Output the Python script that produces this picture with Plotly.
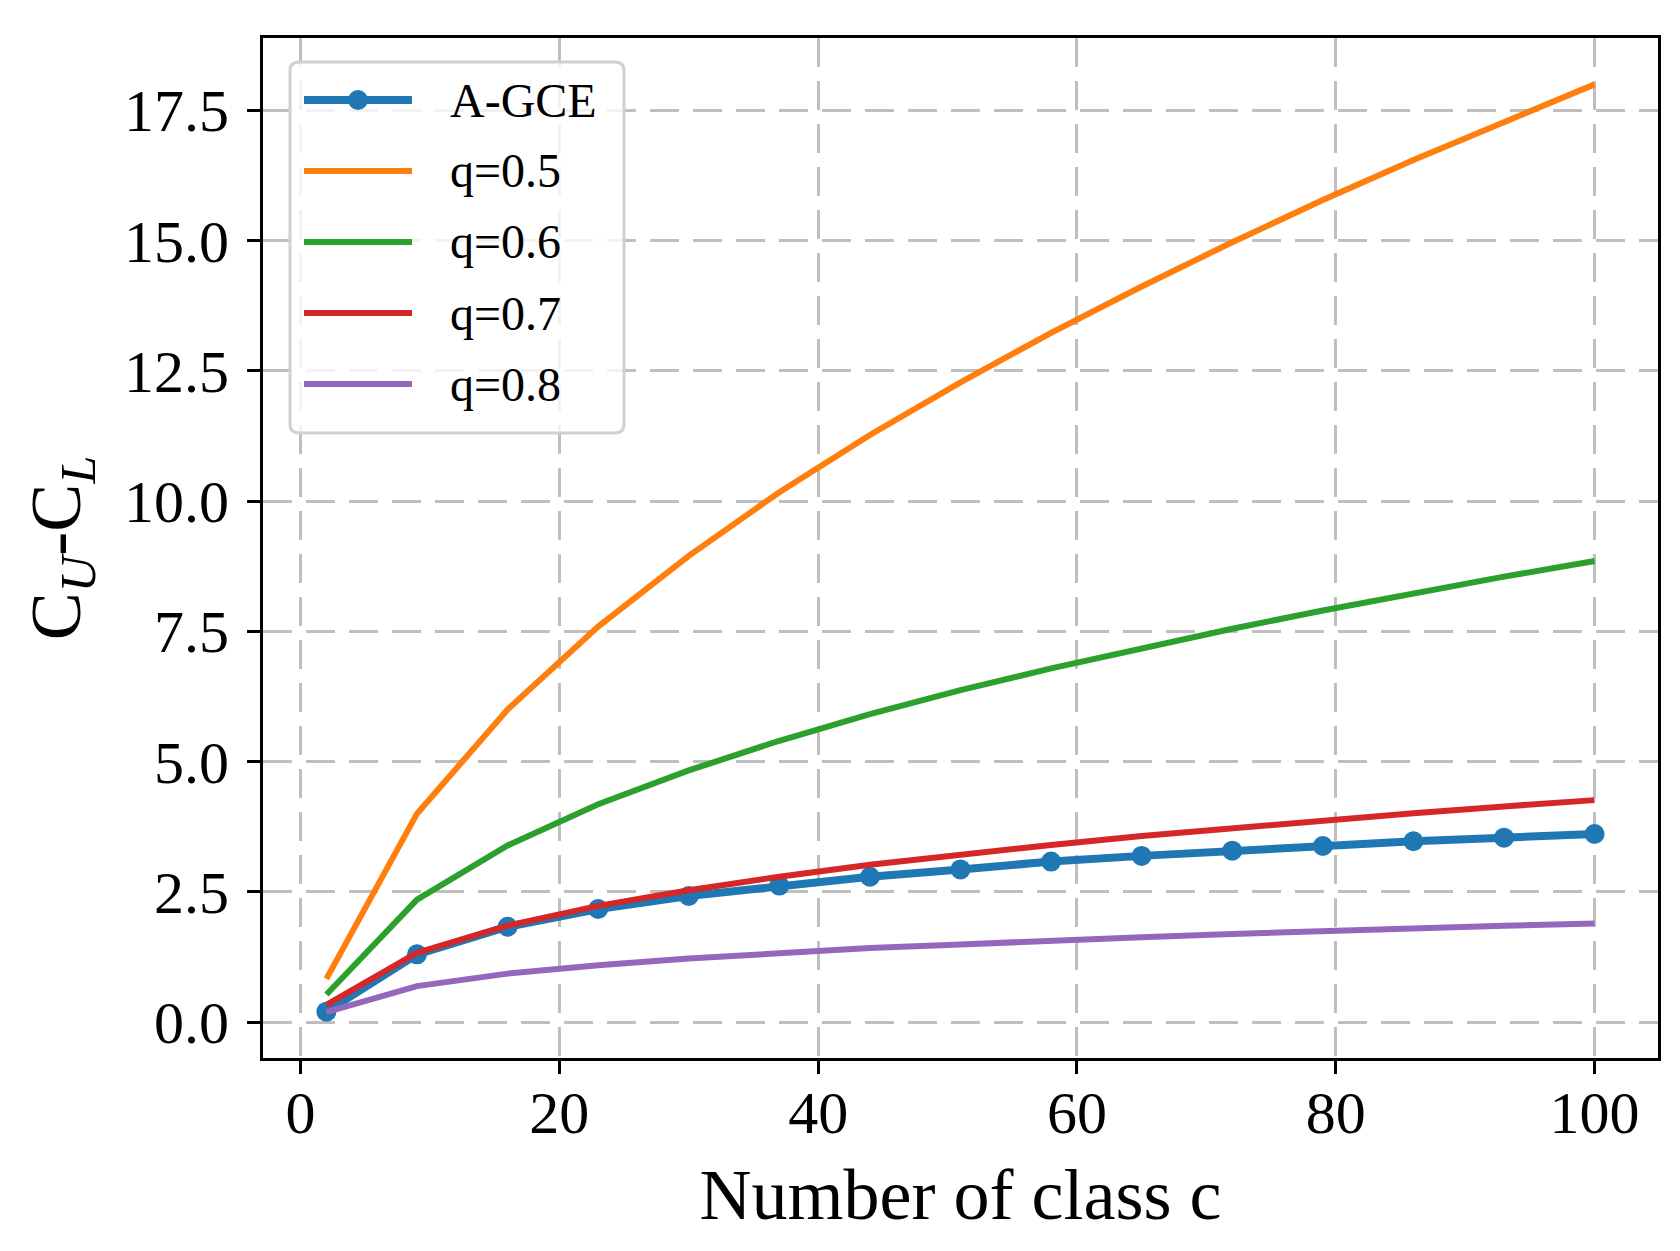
import plotly.graph_objects as go

# number of classes on the x axis
classes = [2, 9, 16, 23, 30, 37, 44, 51, 58, 65, 72, 79, 86, 93, 100]

# C_U - C_L values
agce = [0.20, 1.30, 1.83, 2.17, 2.42, 2.62, 2.79, 2.93, 3.08, 3.19, 3.29, 3.38, 3.47, 3.54, 3.61]
q05 = [0.83, 4.00, 6.00, 7.59, 8.95, 10.17, 11.27, 12.28, 13.23, 14.12, 14.97, 15.78, 16.55, 17.29, 18.00]
q06 = [0.53, 2.35, 3.39, 4.18, 4.83, 5.40, 5.91, 6.37, 6.79, 7.18, 7.55, 7.90, 8.23, 8.55, 8.85]
q07 = [0.33, 1.33, 1.85, 2.23, 2.53, 2.79, 3.02, 3.22, 3.40, 3.57, 3.72, 3.87, 4.01, 4.14, 4.26]
q08 = [0.19, 0.69, 0.93, 1.09, 1.22, 1.32, 1.42, 1.49, 1.57, 1.63, 1.69, 1.75, 1.80, 1.85, 1.89]

series_names = ["A-GCE", "q=0.5", "q=0.6", "q=0.7", "q=0.8"]
series_colors = ["#1f77b4", "#ff7f0e", "#2ca02c", "#d62728", "#9467bd"]

x_ticks = [0, 20, 40, 60, 80, 100]
y_ticks = [0.0, 2.5, 5.0, 7.5, 10.0, 12.5, 15.0, 17.5]

serif = "Liberation Serif, Times New Roman, serif"

W, H = 1680, 1251
M_L, M_R, M_T, M_B = 255, 30, 30, 201
PW, PH = W - M_L - M_R, H - M_T - M_B


def px_x(px):
    # pixel column -> paper x
    return (px - M_L) / PW


def px_y(py):
    # pixel row -> paper y
    return (H - M_B - py) / PH


fig = go.Figure()

all_values = [agce, q05, q06, q07, q08]
for i, (name, color, vals) in enumerate(zip(series_names, series_colors, all_values)):
    if i == 0:
        fig.add_trace(go.Scatter(x=classes, y=vals, name=name, mode="lines+markers",
                                 line=dict(color=color, width=8),
                                 marker=dict(color=color, size=20)))
    else:
        fig.add_trace(go.Scatter(x=classes, y=vals, name=name, mode="lines",
                                 line=dict(color=color, width=6)))

axis_common = dict(
    showline=True, linecolor="black", linewidth=3, mirror=True,
    ticks="outside", ticklen=13, tickwidth=3, tickcolor="black",
    showgrid=True, gridcolor="#bfbfbf", gridwidth=3, griddash="29px,14px",
    zeroline=False,
    tickfont=dict(family=serif, size=60, color="black"),
)

fig.update_xaxes(
    range=[-2.9, 104.9], tickvals=x_ticks, ticklabelstandoff=-13,
    title=dict(text="Number of class c", font=dict(family=serif, size=72, color="black"), standoff=24),
    **axis_common,
)
fig.update_yaxes(
    range=[-0.69, 18.89], tickvals=y_ticks, tickformat=".1f", ticklabelstandoff=6,
    title=dict(text="C<sub><i>U</i></sub>-C<sub><i>L</i></sub>",
               font=dict(family=serif, size=72, color="black"), standoff=20),
    **axis_common,
)

# legend drawn by hand (matplotlib style: long sample lines, rounded frame)
box_l, box_r, box_t, box_b = px_x(282), px_x(616), px_y(54), px_y(425)
rx, ry = 9 / PW, 9 / PH
box_path = (
    f"M {box_l + rx},{box_t} L {box_r - rx},{box_t} Q {box_r},{box_t} {box_r},{box_t - ry} "
    f"L {box_r},{box_b + ry} Q {box_r},{box_b} {box_r - rx},{box_b} "
    f"L {box_l + rx},{box_b} Q {box_l},{box_b} {box_l},{box_b + ry} "
    f"L {box_l},{box_t - ry} Q {box_l},{box_t} {box_l + rx},{box_t} Z"
)
shapes = [dict(type="path", path=box_path, xref="paper", yref="paper", layer="above",
               fillcolor="rgba(255,255,255,0.8)", line=dict(color="#d0d0d0", width=3))]
annotations = []
row0, row_gap = 92, 71
for i, (name, color) in enumerate(zip(series_names, series_colors)):
    yy = px_y(row0 + i * row_gap)
    shapes.append(dict(type="line", xref="paper", yref="paper", layer="above",
                       x0=px_x(296), x1=px_x(404), y0=yy, y1=yy,
                       line=dict(color=color, width=8 if i == 0 else 6)))
    if i == 0:
        shapes.append(dict(type="circle", xref="paper", yref="paper", layer="above",
                           xsizemode="pixel", ysizemode="pixel",
                           xanchor=px_x(350), yanchor=yy, x0=-10, x1=10, y0=-10, y1=10,
                           fillcolor=color, line=dict(color=color, width=0)))
    annotations.append(dict(text=name, xref="paper", yref="paper", x=px_x(440), y=yy,
                            xanchor="left", yanchor="middle", showarrow=False,
                            font=dict(family=serif, size=48, color="black")))

fig.update_layout(
    width=W, height=H,
    paper_bgcolor="white", plot_bgcolor="white",
    margin=dict(l=M_L, r=M_R, t=M_T, b=M_B),
    font=dict(family=serif, color="black"),
    showlegend=False,
    shapes=shapes,
    annotations=annotations,
)

fig.write_html("out.html")
